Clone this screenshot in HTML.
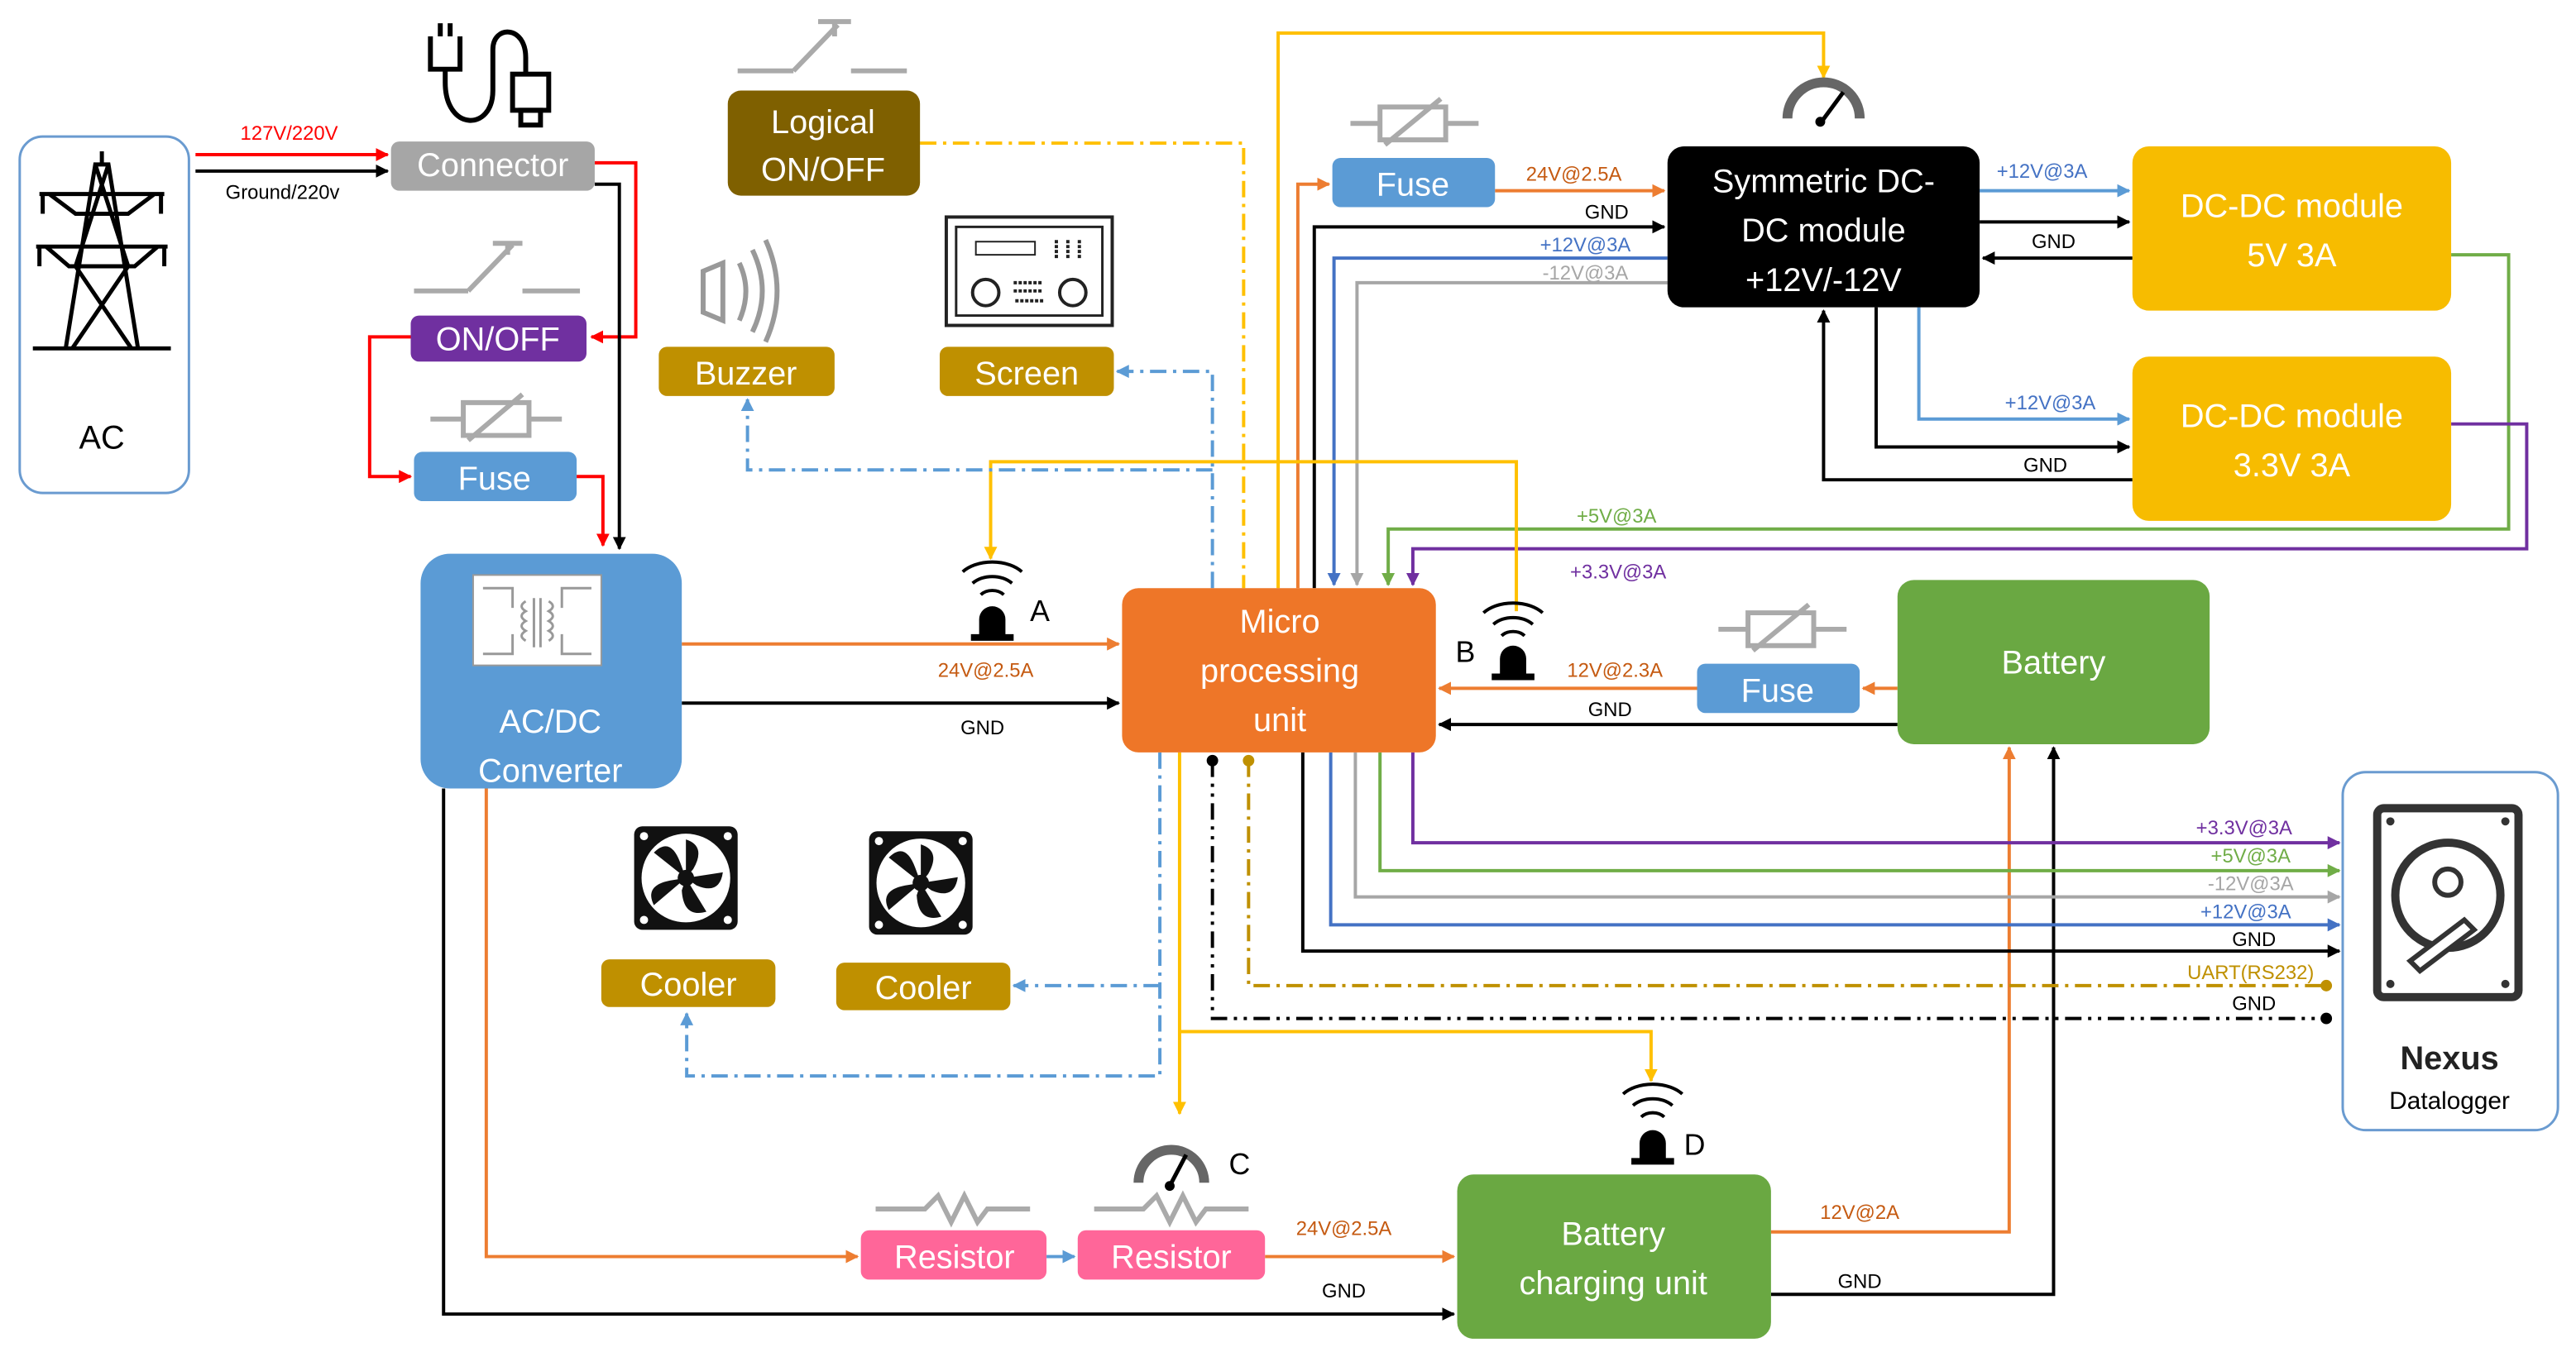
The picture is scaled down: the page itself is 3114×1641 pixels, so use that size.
<!DOCTYPE html>
<html><head><meta charset="utf-8"><style>
html,body{margin:0;padding:0;background:#fff;}
svg{display:block;}
text{font-family:"Liberation Sans",sans-serif;}
.bl{fill:#fff;font-size:20px;text-anchor:middle;}
.lb{font-size:12px;text-anchor:middle;}
</style></head><body>
<svg width="3114" height="1641" viewBox="0 0 1568 826" xmlns="http://www.w3.org/2000/svg">
<defs>
<marker id="ak" viewBox="0 0 10 10" refX="9" refY="5" markerWidth="4" markerHeight="4" orient="auto"><path d="M0,0L10,5L0,10z" fill="#000"/></marker>
<marker id="ar" viewBox="0 0 10 10" refX="9" refY="5" markerWidth="4" markerHeight="4" orient="auto"><path d="M0,0L10,5L0,10z" fill="#f00"/></marker>
<marker id="ao" viewBox="0 0 10 10" refX="9" refY="5" markerWidth="4" markerHeight="4" orient="auto"><path d="M0,0L10,5L0,10z" fill="#ed7d31"/></marker>
<marker id="ab" viewBox="0 0 10 10" refX="9" refY="5" markerWidth="4" markerHeight="4" orient="auto"><path d="M0,0L10,5L0,10z" fill="#4472c4"/></marker>
<marker id="ab2" viewBox="0 0 10 10" refX="9" refY="5" markerWidth="4" markerHeight="4" orient="auto"><path d="M0,0L10,5L0,10z" fill="#5b9bd5"/></marker>
<marker id="ag" viewBox="0 0 10 10" refX="9" refY="5" markerWidth="4" markerHeight="4" orient="auto"><path d="M0,0L10,5L0,10z" fill="#a6a6a6"/></marker>
<marker id="agr" viewBox="0 0 10 10" refX="9" refY="5" markerWidth="4" markerHeight="4" orient="auto"><path d="M0,0L10,5L0,10z" fill="#70ad47"/></marker>
<marker id="ap" viewBox="0 0 10 10" refX="9" refY="5" markerWidth="4" markerHeight="4" orient="auto"><path d="M0,0L10,5L0,10z" fill="#7030a0"/></marker>
<marker id="ay" viewBox="0 0 10 10" refX="9" refY="5" markerWidth="4" markerHeight="4" orient="auto"><path d="M0,0L10,5L0,10z" fill="#ffc000"/></marker>
<g id="fan">
<rect x="0" y="0" width="63" height="63" rx="5" fill="#111"/>
<circle cx="31.5" cy="31.5" r="27" fill="#fff"/>
<g fill="#111">
<path d="M31.5,31.5L31.5,8Q44,12 36,26z"/>
<path d="M31.5,31.5L54,28Q52,42 38,36z"/>
<path d="M31.5,31.5L44,52Q30,56 29,39z"/>
<path d="M31.5,31.5L12,48Q6,36 22,33z"/>
<path d="M31.5,31.5L12,16Q22,6 28,22z"/>
</g>
<circle cx="31.5" cy="31.5" r="5" fill="#111"/>
<circle cx="6" cy="6" r="2.5" fill="#fff"/><circle cx="57" cy="6" r="2.5" fill="#fff"/><circle cx="6" cy="57" r="2.5" fill="#fff"/><circle cx="57" cy="57" r="2.5" fill="#fff"/>
</g>
</defs>

<!-- wires -->
<g fill="none" stroke-width="2">
<path d="M119,94H236" stroke="#f00" marker-end="url(#ar)"/>
<path d="M119,104H236" stroke="#000" marker-end="url(#ak)"/>
<path d="M362,99H387V205H360" stroke="#f00" marker-end="url(#ar)"/>
<path d="M250,205H225V290H250" stroke="#f00" marker-end="url(#ar)"/>
<path d="M351,290H367V332" stroke="#f00" marker-end="url(#ar)"/>
<path d="M362,112H377V334" stroke="#000" marker-end="url(#ak)"/>
<path d="M415,392H681" stroke="#ed7d31" marker-end="url(#ao)"/>
<path d="M415,428H681" stroke="#000" marker-end="url(#ak)"/>
<path d="M296,480V765H522" stroke="#ed7d31" marker-end="url(#ao)"/>
<path d="M637,765H654" stroke="#5b9bd5" marker-end="url(#ab2)"/>
<path d="M270,480V800H885" stroke="#000" marker-end="url(#ak)"/>
<path d="M770,765H885" stroke="#ed7d31" marker-end="url(#ao)"/>
<path d="M1078,750H1223V455" stroke="#ed7d31" marker-end="url(#ao)"/>
<path d="M1078,788H1250V455" stroke="#000" marker-end="url(#ak)"/>
<path d="M1155,419H1134" stroke="#ed7d31" marker-end="url(#ao)"/>
<path d="M1033,419H876" stroke="#ed7d31" marker-end="url(#ao)"/>
<path d="M1155,441H876" stroke="#000" marker-end="url(#ak)"/>
<path d="M910,116H1013" stroke="#ed7d31" marker-end="url(#ao)"/>
<path d="M790,358V112H809" stroke="#ed7d31" marker-end="url(#ao)"/>
<path d="M800,358V138H1013" stroke="#000" marker-end="url(#ak)"/>
<path d="M1015,157H812V356" stroke="#4472c4" marker-end="url(#ab)"/>
<path d="M1015,172H826V356" stroke="#a6a6a6" marker-end="url(#ag)"/>
<path d="M778,358V20H1110V47" stroke="#ffc000" marker-end="url(#ay)"/>
<path d="M1205,116H1296" stroke="#5b9bd5" marker-end="url(#ab2)"/>
<path d="M1205,135H1296" stroke="#000" marker-end="url(#ak)"/>
<path d="M1298,157H1207" stroke="#000" marker-end="url(#ak)"/>
<path d="M1168,187V255H1296" stroke="#5b9bd5" marker-end="url(#ab2)"/>
<path d="M1142,187V272H1296" stroke="#000" marker-end="url(#ak)"/>
<path d="M1298,292H1110V189" stroke="#000" marker-end="url(#ak)"/>
<path d="M1492,155H1527V322H845V356" stroke="#70ad47" marker-end="url(#agr)"/>
<path d="M1492,258H1538V334H860V356" stroke="#7030a0" marker-end="url(#ap)"/>
<path d="M923,372V281H603V340" stroke="#ffc000" marker-end="url(#ay)"/>
<path d="M718,458V678" stroke="#ffc000" marker-end="url(#ay)"/>
<path d="M718,628H1005V658" stroke="#ffc000" marker-end="url(#ay)"/>
<path d="M860,458V513H1424" stroke="#7030a0" marker-end="url(#ap)"/>
<path d="M840,458V530H1424" stroke="#70ad47" marker-end="url(#agr)"/>
<path d="M825,458V546H1424" stroke="#a6a6a6" marker-end="url(#ag)"/>
<path d="M810,458V563H1424" stroke="#4472c4" marker-end="url(#ab)"/>
<path d="M793,458V579H1424" stroke="#000" marker-end="url(#ak)"/>
</g>
<g fill="none" stroke-width="2" stroke-dasharray="10,4,2,4">
<path d="M560,87H757V358" stroke="#ffc000"/>
<path d="M738,358V226H680" stroke="#5b9bd5" marker-end="url(#ab2)"/>
<path d="M738,286H455V243" stroke="#5b9bd5" marker-end="url(#ab2)"/>
<path d="M706,458V655H418V617" stroke="#5b9bd5" marker-end="url(#ab2)"/>
<path d="M706,600H617" stroke="#5b9bd5" marker-end="url(#ab2)"/>
<path d="M760,463V600H1416" stroke="#bf9000"/>
<path d="M738,463V620H1416" stroke="#000" stroke-dasharray="10,4,2,4,2,4"/>
</g>
<circle cx="738" cy="463" r="3.5"/><circle cx="760" cy="463" r="3.5" fill="#bf9000"/>
<circle cx="1416" cy="600" r="3.5" fill="#bf9000"/><circle cx="1416" cy="620" r="3.5"/>

<!-- labels -->
<g class="lb">
<text x="176" y="85" fill="#f00">127V/220V</text>
<text x="172" y="121" fill="#000">Ground/220v</text>
<text x="600" y="412" fill="#c55a11">24V@2.5A</text>
<text x="598" y="447">GND</text>
<text x="818" y="752" fill="#c55a11">24V@2.5A</text>
<text x="818" y="790">GND</text>
<text x="1132" y="742" fill="#c55a11">12V@2A</text>
<text x="1132" y="784">GND</text>
<text x="983" y="412" fill="#c55a11">12V@2.3A</text>
<text x="980" y="436">GND</text>
<text x="958" y="110" fill="#c55a11">24V@2.5A</text>
<text x="978" y="133">GND</text>
<text x="965" y="153" fill="#4472c4">+12V@3A</text>
<text x="965" y="170" fill="#a6a6a6">-12V@3A</text>
<text x="1243" y="108" fill="#4472c4">+12V@3A</text>
<text x="1250" y="151">GND</text>
<text x="1248" y="249" fill="#4472c4">+12V@3A</text>
<text x="1245" y="287">GND</text>
<text x="984" y="318" fill="#70ad47">+5V@3A</text>
<text x="985" y="352" fill="#7030a0">+3.3V@3A</text>
<text x="1366" y="508" fill="#7030a0">+3.3V@3A</text>
<text x="1370" y="525" fill="#70ad47">+5V@3A</text>
<text x="1370" y="542" fill="#a6a6a6">-12V@3A</text>
<text x="1367" y="559" fill="#4472c4">+12V@3A</text>
<text x="1372" y="576">GND</text>
<text x="1370" y="596" fill="#bf9000">UART(RS232)</text>
<text x="1372" y="615">GND</text>
</g>

<!-- boxes -->
<rect x="12" y="83" width="103" height="217" rx="14" fill="#fff" stroke="#6a9bd0" stroke-width="1.5"/>
<text x="62" y="273" font-size="20" text-anchor="middle">AC</text>
<g stroke="#000" stroke-width="2.5" fill="none">
<path d="M40,212L58,100H66L84,212M20,212H104M62,92V100M24,118H100M22,150H102M30,118L46,130H78L94,118M28,150L42,162H82L96,150M58,100L78,162L44,212M66,100L46,162L80,212M26,118V130M98,118V130M24,150V162M100,150V162"/>
</g>
<rect x="238" y="86" width="124" height="30" rx="5" fill="#a6a6a6"/><text x="300" y="107" class="bl" font-size="18">Connector</text>
<g stroke="#000" stroke-width="3" fill="none"><path d="M262,22V42H280V22M268,22V14M274,22V14M271,42V50C271,80 300,80 300,55V30C300,15 320,15 320,35V45"/><rect x="312" y="45" width="22" height="22"/><rect x="317" y="67" width="12" height="9"/></g>
<rect x="250" y="192" width="107" height="28" rx="5" fill="#7030a0"/><text x="303" y="213" class="bl">ON/OFF</text>
<rect x="252" y="275" width="99" height="30" rx="5" fill="#5b9bd5"/><text x="301" y="298" class="bl">Fuse</text>
<rect x="256" y="337" width="159" height="143" rx="18" fill="#5b9bd5"/>
<rect x="288" y="350" width="78" height="55" fill="#fff" stroke="#999"/>
<g stroke="#999" stroke-width="1.5" fill="none">
<path d="M294,358H312V370M294,398H312V386M360,358H342V370M360,398H342V386"/>
<path d="M320,366q-5,3 0,6q-5,3 0,6q-5,3 0,6q-5,3 0,6M334,366q5,3 0,6q5,3 0,6q5,3 0,6q5,3 0,6M325,364V394M329,364V394"/>
</g>
<text x="335" y="446" class="bl">AC/DC</text><text x="335" y="476" class="bl">Converter</text>
<rect x="443" y="55" width="117" height="64" rx="8" fill="#7f6000"/>
<text x="501" y="81" class="bl">Logical</text><text x="501" y="110" class="bl">ON/OFF</text>
<rect x="401" y="211" width="107" height="30" rx="5" fill="#bf9000"/><text x="454" y="234" class="bl">Buzzer</text>
<rect x="572" y="211" width="106" height="30" rx="5" fill="#bf9000"/><text x="625" y="234" class="bl">Screen</text>
<rect x="683" y="358" width="191" height="100" rx="10" fill="#ee7628"/>
<text x="779" y="385" class="bl">Micro</text><text x="779" y="415" class="bl">processing</text><text x="779" y="445" class="bl">unit</text>
<rect x="811" y="96" width="99" height="30" rx="5" fill="#5b9bd5"/><text x="860" y="119" class="bl">Fuse</text>
<rect x="1015" y="89" width="190" height="98" rx="10" fill="#000"/>
<text x="1110" y="117" class="bl">Symmetric DC-</text><text x="1110" y="147" class="bl">DC module</text><text x="1110" y="177" class="bl">+12V/-12V</text>
<rect x="1298" y="89" width="194" height="100" rx="10" fill="#f7bc00"/>
<text x="1395" y="132" class="bl">DC-DC module</text><text x="1395" y="162" class="bl">5V 3A</text>
<rect x="1298" y="217" width="194" height="100" rx="10" fill="#f7bc00"/>
<text x="1395" y="260" class="bl">DC-DC module</text><text x="1395" y="290" class="bl">3.3V 3A</text>
<rect x="1155" y="353" width="190" height="100" rx="10" fill="#6aa842"/><text x="1250" y="410" class="bl">Battery</text>
<rect x="1033" y="404" width="99" height="30" rx="5" fill="#5b9bd5"/><text x="1082" y="427" class="bl">Fuse</text>
<rect x="1426" y="470" width="131" height="218" rx="14" fill="#fff" stroke="#6a9bd0" stroke-width="1.5"/>
<rect x="1447" y="492" width="86" height="115" rx="4" fill="#fff" stroke="#333" stroke-width="5"/>
<circle cx="1455" cy="500" r="2.5" fill="#333"/><circle cx="1525" cy="500" r="2.5" fill="#333"/><circle cx="1455" cy="599" r="2.5" fill="#333"/><circle cx="1525" cy="599" r="2.5" fill="#333"/>
<circle cx="1490" cy="545" r="32" fill="none" stroke="#333" stroke-width="5"/><circle cx="1490" cy="537" r="8" fill="none" stroke="#333" stroke-width="3"/>
<path d="M1467,585L1500,560L1506,566L1473,591z" fill="#fff" stroke="#333" stroke-width="3"/>
<text x="1491" y="651" font-size="20" font-weight="bold" text-anchor="middle" fill="#222">Nexus</text>
<text x="1491" y="675" font-size="15" text-anchor="middle">Datalogger</text>
<rect x="366" y="584" width="106" height="29" rx="5" fill="#bf9000"/><text x="419" y="606" class="bl">Cooler</text>
<rect x="509" y="586" width="106" height="29" rx="5" fill="#bf9000"/><text x="562" y="608" class="bl">Cooler</text>
<use href="#fan" x="386" y="503"/>
<use href="#fan" x="529" y="506"/>
<rect x="524" y="749" width="113" height="30" rx="5" fill="#ff6699"/><text x="581" y="772" class="bl">Resistor</text>
<rect x="656" y="749" width="114" height="30" rx="5" fill="#ff6699"/><text x="713" y="772" class="bl">Resistor</text>
<rect x="887" y="715" width="191" height="100" rx="10" fill="#6aa842"/>
<text x="982" y="758" class="bl">Battery</text><text x="982" y="788" class="bl">charging unit</text>

<!-- small icons -->
<g stroke="#aaa" stroke-width="3" fill="none">
<path d="M449,43H483M483,43L510,15M498,13H518M508,13V22M518,43H552"/>
<path d="M252,177H285M285,177L312,149M300,148H318M309,148V155M318,177H353"/>
<path d="M262,255H282V245H322V265H282V255M322,255H342M285,268L318,240"/>
<path d="M822,75H840V65H880V85H840V75M880,75H900M843,88L877,60"/>
<path d="M1046,383H1064V373H1104V393H1064V383M1104,383H1124M1067,396L1101,368"/>
<path d="M533,736H563L571,728L579,744L587,728L595,744L601,736H627"/>
<path d="M666,736H696L704,728L712,744L720,728L728,744L734,736H760"/>
<path d="M428,165L440,160V195L428,190zM450,160Q458,177 450,195M458,152Q470,177 458,202M466,146Q480,177 466,208" stroke="#999"/>
</g>
<rect x="576" y="132" width="101" height="66" fill="#fff" stroke="#222" stroke-width="2"/>
<rect x="582" y="138" width="89" height="54" fill="none" stroke="#222" stroke-width="1.5"/>
<circle cx="600" cy="178" r="8" fill="none" stroke="#222" stroke-width="2"/><circle cx="653" cy="178" r="8" fill="none" stroke="#222" stroke-width="2"/>
<rect x="594" y="147" width="36" height="8" fill="none" stroke="#222"/>
<path d="M643,146V158M650,146V158M657,146V158M617,172H635M617,177H635M618,183H635" stroke="#222" stroke-width="2" stroke-dasharray="2,1"/>
<g fill="none" stroke="#666" stroke-width="6">
<path d="M1088,72A22,22 0 0 1 1132,72"/><path d="M693,720A20,20 0 0 1 733,720"/>
</g>
<path d="M1108,75L1122,56" stroke="#000" stroke-width="2.5"/><path d="M712,722L722,703" stroke="#000" stroke-width="2.5"/>
<circle cx="1108" cy="74" r="3"/><circle cx="712" cy="722" r="3"/>
<text x="748" y="715" font-size="18">C</text>
<g fill="none" stroke="#000" stroke-width="2">
<path d="M592,355A16,12 0 0 1 616,355M597,362A9,7 0 0 1 611,362M586,348A22,14 0 0 1 622,348"/>
<path d="M909,380A16,12 0 0 1 933,380M914,387A9,7 0 0 1 928,387M903,373A22,14 0 0 1 939,373"/>
<path d="M994,673A16,12 0 0 1 1018,673M999,680A9,7 0 0 1 1013,680M988,666A22,14 0 0 1 1024,666"/>
</g>
<path d="M596,386V377A8,8 0 0 1 612,377V386zM591,386H617v4H591z" fill="#000"/>
<path d="M913,410V401A8,8 0 0 1 929,401V410zM908,410H934v4H908z" fill="#000"/>
<path d="M998,705V696A8,8 0 0 1 1014,696V705zM993,705H1019v4H993z" fill="#000"/>
<text x="627" y="378" font-size="18">A</text>
<text x="886" y="403" font-size="18">B</text>
<text x="1025" y="703" font-size="18">D</text>
</svg>
</body></html>
